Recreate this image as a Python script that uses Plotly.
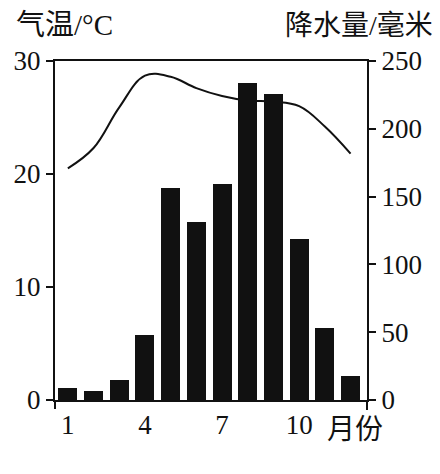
import plotly.graph_objects as go

months = list(range(1, 13))
precip_mm = [8.5, 7, 14.5, 48, 156.5, 131, 159.5, 234, 226, 119, 53, 18]
temp_c = [20.5, 22.3, 25.9, 28.7, 28.6, 27.6, 26.9, 26.5, 26.4, 26.0, 24.2, 21.8]
x_tick_vals = [1, 4, 7, 10]
x_tick_text = ["1", "4", "7", "10"]
t_ticks = [0, 10, 20, 30]
p_ticks = [0, 50, 100, 150, 200, 250]

W, H = 440, 474
OFF = 8  # page body margin
# plot area in page pixels: x 55..367, y 61..400
L, T = 55 - OFF, 61 - OFF
R, B = W - (367 - OFF), H - (400 - OFF)
PW, PH = W - L - R, H - T - B

def px(x):
    return (x - OFF - L) / PW

def py(y):
    return (H - B - (y - OFF)) / PH

SERIF = "Liberation Serif, Noto Sans CJK SC, serif"

fig = go.Figure()
fig.add_trace(go.Scatter(
    x=months, y=temp_c, mode="lines", yaxis="y",
    line=dict(color="#111111", width=2, shape="spline", smoothing=1.1),
    showlegend=False, hoverinfo="skip"))
fig.add_trace(go.Bar(
    x=months, y=precip_mm, yaxis="y2", width=0.74,
    marker=dict(color="#111111", line=dict(width=0)),
    showlegend=False))

axis_common = dict(showline=True, linecolor="#111111", linewidth=2,
                   showgrid=False, zeroline=False,
                   tickfont=dict(family=SERIF, size=27, color="#111111"))

fig.update_layout(
    width=W, height=H,
    margin=dict(l=L, r=R, t=T, b=B, pad=0, autoexpand=False),
    paper_bgcolor="white", plot_bgcolor="white",
    bargap=0,
    xaxis=dict(range=[0.5, 12.64], tickvals=x_tick_vals, ticktext=x_tick_text,
               ticks="", mirror=True, ticklabelstandoff=0, **axis_common),
    yaxis=dict(range=[0, 30], tickvals=t_ticks, ticks="outside", ticklen=7,
               tickwidth=2, tickcolor="#111111", **axis_common),
    yaxis2=dict(range=[0, 250], tickvals=p_ticks, ticks="outside", ticklen=7,
                tickwidth=2, tickcolor="#111111", overlaying="y", side="right",
                **axis_common),
    shapes=[
        dict(type="line", xref="paper", yref="paper", x0=0, x1=0,
             y0=0, y1=py(409), line=dict(color="#111111", width=2)),
        dict(type="line", xref="paper", yref="paper", x0=1, x1=1,
             y0=0, y1=py(410), line=dict(color="#111111", width=2)),
    ],
    annotations=[
        dict(text="气温/°C", xref="paper", yref="paper", x=px(14), y=py(25),
             xanchor="left", yanchor="middle", showarrow=False,
             font=dict(family=SERIF, size=29, color="#111111")),
        dict(text="降水量/毫米", xref="paper", yref="paper", x=px(283), y=py(25),
             xanchor="left", yanchor="middle", showarrow=False,
             font=dict(family=SERIF, size=28, color="#111111")),
        dict(text="月份", xref="paper", yref="paper", x=px(355), y=py(429),
             xanchor="center", yanchor="middle", showarrow=False,
             font=dict(family=SERIF, size=28, color="#111111")),
    ],
)

fig.write_html("out.html")
